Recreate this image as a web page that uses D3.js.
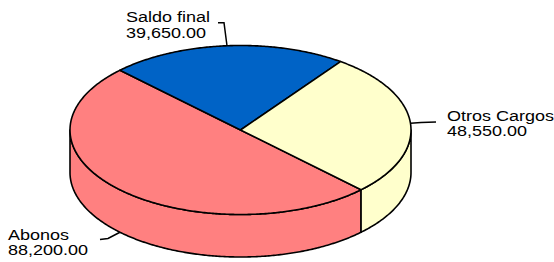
<!DOCTYPE html>
<html>
<head>
<meta charset="utf-8">
<script src="https://cdn.jsdelivr.net/npm/d3@7"></script>
<style>
  html, body { margin: 0; padding: 0; background: #fff; }
  svg { display: block; }
  text { font-family: "Liberation Sans", Arial, sans-serif; fill: #000; }
</style>
</head>
<body>
<svg id="chart" width="554" height="262"></svg>
<script>
// ---- data ----
const categories = ["Abonos", "Saldo final", "Otros Cargos"];
const values = [88200.00, 39650.00, 48550.00];
const valueLabels = ["88,200.00", "39,650.00", "48,550.00"];
const colors = ["#FF8080", "#0063C6", "#FFFFCC"];

// ---- layout ----
const W = 554, H = 262;
const cx = 240.5, cy = 130, rx = 170.5, ry = 84.5, depth = 42.5;
const startScreen = Math.PI / 4; // first slice starts at 45° (screen, clockwise from +x)

const labelLayout = {
  "Saldo final":  { tx: 126, ty: 22.3, elbow: [224, 22.7], end: [218, 22.7] },
  "Otros Cargos": { tx: 447, ty: 121,  elbow: [421, 122.5],  end: [436, 122] },
  "Abonos":       { tx: 8,   ty: 240,  elbow: [108, 238.5], end: [100, 239.5] }
};

const svg = d3.select("#chart");

const pie = d3.pie().sort(null).value(d => d.value)
  .startAngle(startScreen + Math.PI / 2)
  .endAngle(startScreen + Math.PI / 2 + 2 * Math.PI);

const data = categories.map((c, i) => ({ name: c, value: values[i], label: valueLabels[i], color: colors[i] }));
const arcs = pie(data).map(a => ({ ...a, s0: a.startAngle - Math.PI / 2, s1: a.endAngle - Math.PI / 2 }));

const ex = t => cx + rx * Math.cos(t);
const ey = (t, dz = 0) => cy + ry * Math.sin(t) + dz;
const line = d3.line();

function arcPts(t0, t1, dz) {
  const n = Math.max(2, Math.ceil(Math.abs(t1 - t0) / 0.01));
  return d3.range(n + 1).map(i => {
    const t = t0 + (t1 - t0) * i / n;
    return [ex(t), ey(t, dz)];
  });
}

function frontParts(s0, s1) {
  const parts = [];
  for (const off of [0, 2 * Math.PI]) {
    const a = Math.max(s0, off), b = Math.min(s1, off + Math.PI);
    if (b > a) parts.push([a, b]);
  }
  return parts;
}

const gSide = svg.append("g");
const gTop = svg.append("g");
const gLab = svg.append("g");

arcs.forEach(a => {
  frontParts(a.s0, a.s1).forEach(([t0, t1]) => {
    const pts = arcPts(t0, t1, 0).concat(arcPts(t1, t0, depth));
    gSide.append("path")
      .attr("d", line(pts) + "Z")
      .attr("fill", a.data.color)
      .attr("stroke", "#000")
      .attr("stroke-width", 1.6)
      .attr("stroke-linejoin", "round");
  });
});

arcs.forEach(a => {
  const pts = [[cx, cy]].concat(arcPts(a.s0, a.s1, 0));
  gTop.append("path")
    .attr("d", line(pts) + "Z")
    .attr("fill", a.data.color)
    .attr("stroke", "#000")
    .attr("stroke-width", 1.6)
    .attr("stroke-linejoin", "round");
});

arcs.forEach(a => {
  const L = labelLayout[a.data.name];
  const mid = (a.s0 + a.s1) / 2;
  const onFront = Math.sin(mid) > 0;
  const p0 = [ex(mid), ey(mid, onFront ? depth : 0)];
  gLab.append("path")
    .attr("d", line([p0, L.elbow, L.end]))
    .attr("fill", "none")
    .attr("stroke", "#000")
    .attr("stroke-width", 1.5);
  const t = gLab.append("g").attr("transform", `translate(${L.tx},${L.ty}) scale(1.2,1)`);
  t.append("text").attr("x", 0).attr("y", 0).attr("font-size", 15).text(a.data.name);
  t.append("text").attr("x", 0).attr("y", 15.5).attr("font-size", 15).text(a.data.label);
});
</script>
</body>
</html>
